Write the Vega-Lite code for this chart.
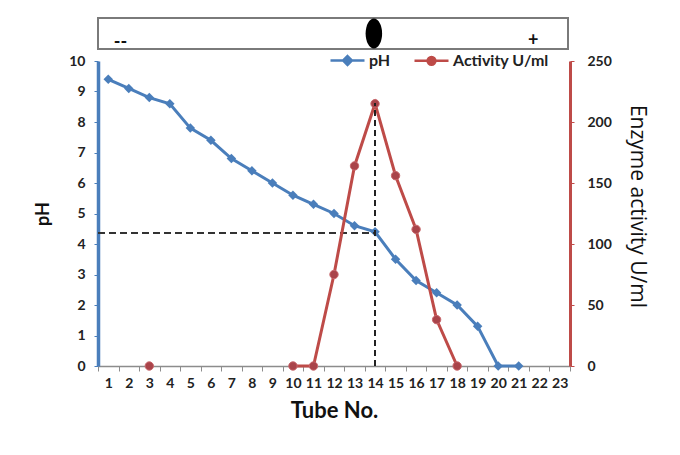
{
  "$schema": "https://vega.github.io/schema/vega-lite/v6.json",
  "background": "white",
  "padding": {"left": 34, "top": 17, "right": 5, "bottom": 5},
  "bounds": "flush",
  "spacing": 12,
  "resolve": {"scale": {"color": "independent"}, "legend": {"color": "independent"}},
  "datasets": {
    "tubes": [
      {"tube": 1, "pH": 9.4, "activity": null},
      {"tube": 2, "pH": 9.1, "activity": null},
      {"tube": 3, "pH": 8.8, "activity": 0},
      {"tube": 4, "pH": 8.6, "activity": null},
      {"tube": 5, "pH": 7.8, "activity": null},
      {"tube": 6, "pH": 7.4, "activity": null},
      {"tube": 7, "pH": 6.8, "activity": null},
      {"tube": 8, "pH": 6.4, "activity": null},
      {"tube": 9, "pH": 6.0, "activity": null},
      {"tube": 10, "pH": 5.6, "activity": 0},
      {"tube": 11, "pH": 5.3, "activity": 0},
      {"tube": 12, "pH": 5.0, "activity": 75},
      {"tube": 13, "pH": 4.6, "activity": 164},
      {"tube": 14, "pH": 4.4, "activity": 215},
      {"tube": 15, "pH": 3.5, "activity": 156},
      {"tube": 16, "pH": 2.8, "activity": 112},
      {"tube": 17, "pH": 2.4, "activity": 38},
      {"tube": 18, "pH": 2.0, "activity": 0},
      {"tube": 19, "pH": 1.3, "activity": null},
      {"tube": 20, "pH": 0, "activity": null},
      {"tube": 21, "pH": 0, "activity": null}
    ],
    "gel": [
      {"pos": 1.6, "lvl": 0.2, "label": "--", "kind": "text"},
      {"pos": 21.8, "lvl": 0.25, "label": "+", "kind": "text"},
      {"pos": 14, "lvl": 0.5, "label": "", "kind": "band"}
    ]
  },
  "vconcat": [
    {
      "width": 470,
      "height": 31,
      "view": {"stroke": "#7a7a7a", "strokeWidth": 2},
      "data": {"name": "gel"},
      "encoding": {
        "x": {"field": "pos", "type": "quantitative", "scale": {"domain": [0.5, 23.5], "nice": false, "zero": false}, "axis": null},
        "y": {"field": "lvl", "type": "quantitative", "scale": {"domain": [0, 1], "nice": false}, "axis": null}
      },
      "layer": [
        {
          "transform": [{"filter": "datum.kind === 'text'"}],
          "mark": {"type": "text", "font": "Lato", "fontWeight": "bold", "fontSize": 18, "color": "#111"},
          "encoding": {"text": {"field": "label"}}
        },
        {
          "transform": [{"filter": "datum.kind === 'band'"}],
          "mark": {"type": "point", "filled": true, "opacity": 1, "color": "#000", "size": 900, "shape": "M0,-1A0.55,1,0,1,1,0,1A0.55,1,0,1,1,0,-1Z"}
        }
      ]
    },
    {
      "width": 472,
      "height": 305,
      "data": {"name": "tubes"},
      "layer": [
        {
          "layer": [
            {
              "mark": {"type": "line", "strokeWidth": 3},
              "encoding": {
                "x": {"field": "tube", "type": "ordinal", "scale": {"type": "band", "domain": [1,2,3,4,5,6,7,8,9,10,11,12,13,14,15,16,17,18,19,20,21,22,23], "paddingInner": 0, "paddingOuter": 0}, "axis": {"title": "Tube No."}},
                "y": {"field": "pH", "type": "quantitative", "title": "pH", "scale": {"domain": [0, 10], "nice": false}, "axis": {"orient": "left", "values": [0,1,2,3,4,5,6,7,8,9,10], "tickCount": 20, "format": "d", "labelOverlap": false}},
                "color": {"datum": "pH", "type": "nominal", "scale": {"domain": ["pH", "Activity U/ml"], "range": ["#4a7ebb", "#be4b48"]}, "legend": {"orient": "none", "legendX": 231, "legendY": -19, "padding": 0, "direction": "horizontal", "title": null, "symbolSize": 1156, "labelOffset": 3, "columnPadding": 18, "labelFontSize": 16, "encode": {"symbols": {"update": {"shape": {"signal": "datum.value === 'pH' ? 'M-1,0H1M0,-0.26L0.26,0L0,0.26L-0.26,0Z' : 'M-1,0H1M-0.23,0A0.23,0.23,0,1,1,0.23,0A0.23,0.23,0,1,1,-0.23,0Z'"}, "fill": {"signal": "datum.value === 'pH' ? '#4a7ebb' : '#be4b48'"}, "stroke": {"signal": "datum.value === 'pH' ? '#4a7ebb' : '#be4b48'"}, "strokeWidth": {"value": 2.5}, "opacity": {"value": 1}}}}}}
              }
            },
            {
              "mark": {"type": "point", "shape": "diamond", "filled": true, "opacity": 1, "size": 90, "color": "#4a7ebb"},
              "encoding": {
                "x": {"field": "tube", "type": "ordinal"},
                "y": {"field": "pH", "type": "quantitative", "axis": {"orient": "left", "values": [0,1,2,3,4,5,6,7,8,9,10], "tickCount": 20, "format": "d", "labelOverlap": false}}
              }
            },
            {
              "mark": {"type": "rule", "color": "#333", "strokeWidth": 1.5, "strokeDash": [7, 4]},
              "encoding": {
                "x": {"datum": 1, "type": "ordinal", "bandPosition": 0},
                "x2": {"datum": 14},
                "y": {"datum": 4.35, "type": "quantitative", "axis": {"orient": "left", "values": [0,1,2,3,4,5,6,7,8,9,10], "tickCount": 20, "format": "d", "labelOverlap": false}}
              }
            }
          ]
        },
        {
          "layer": [
            {
              "mark": {"type": "line", "strokeWidth": 3},
              "encoding": {
                "x": {"field": "tube", "type": "ordinal"},
                "y": {"field": "activity", "type": "quantitative", "title": "Enzyme activity U/ml", "scale": {"domain": [0, 250], "nice": false}, "axis": {"orient": "right", "values": [0,50,100,150,200,250], "tickCount": 20, "format": "d", "labelOverlap": false, "domainColor": "#be4b48", "domainWidth": 3, "tickColor": "#be4b48", "tickSize": 4, "labelPadding": 13, "titleFontSize": 21, "titleFontWeight": "normal", "titleFont": "Open Sans", "titlePadding": 15, "titleY": 145}},
                "color": {"datum": "Activity U/ml", "type": "nominal"}
              }
            },
            {
              "mark": {"type": "point", "shape": "circle", "filled": true, "opacity": 1, "size": 70, "color": "#a9444a", "stroke": "#c8656a", "strokeWidth": 1},
              "encoding": {
                "x": {"field": "tube", "type": "ordinal"},
                "y": {"field": "activity", "type": "quantitative"}
              }
            },
            {
              "mark": {"type": "rule", "color": "#222", "strokeWidth": 1.5, "strokeDash": [6, 4]},
              "encoding": {
                "x": {"datum": 14, "type": "ordinal"},
                "y": {"datum": 0, "type": "quantitative"},
                "y2": {"datum": 215}
              }
            }
          ]
        }
      ],
      "resolve": {"scale": {"y": "independent"}}
    }
  ],
  "config": {
    "view": {"stroke": null},
    "font": "Lato",
    "axis": {"labelFont": "Lato", "labelFontWeight": "bold", "labelFontSize": 14, "labelColor": "#222", "titleFont": "Lato", "titleFontWeight": "bold", "titleColor": "#111", "grid": false},
    "axisLeft": {"domainColor": "#4a7ebb", "domainWidth": 3.5, "tickColor": "#4a7ebb", "tickSize": 4, "labelPadding": 9, "titleFontSize": 18, "titlePadding": 16, "labelOverlap": false},
    "axisX": {"domainColor": "#8c8c8c", "domainWidth": 1.5, "tickColor": "#8c8c8c", "tickSize": 5, "tickBand": "extent", "labelAngle": 0, "labelPadding": 5, "labelOverlap": false, "titleFontSize": 22, "titlePadding": 10},
    "legend": {"labelFont": "Lato", "labelFontWeight": "bold", "labelColor": "#222"}
  }
}
